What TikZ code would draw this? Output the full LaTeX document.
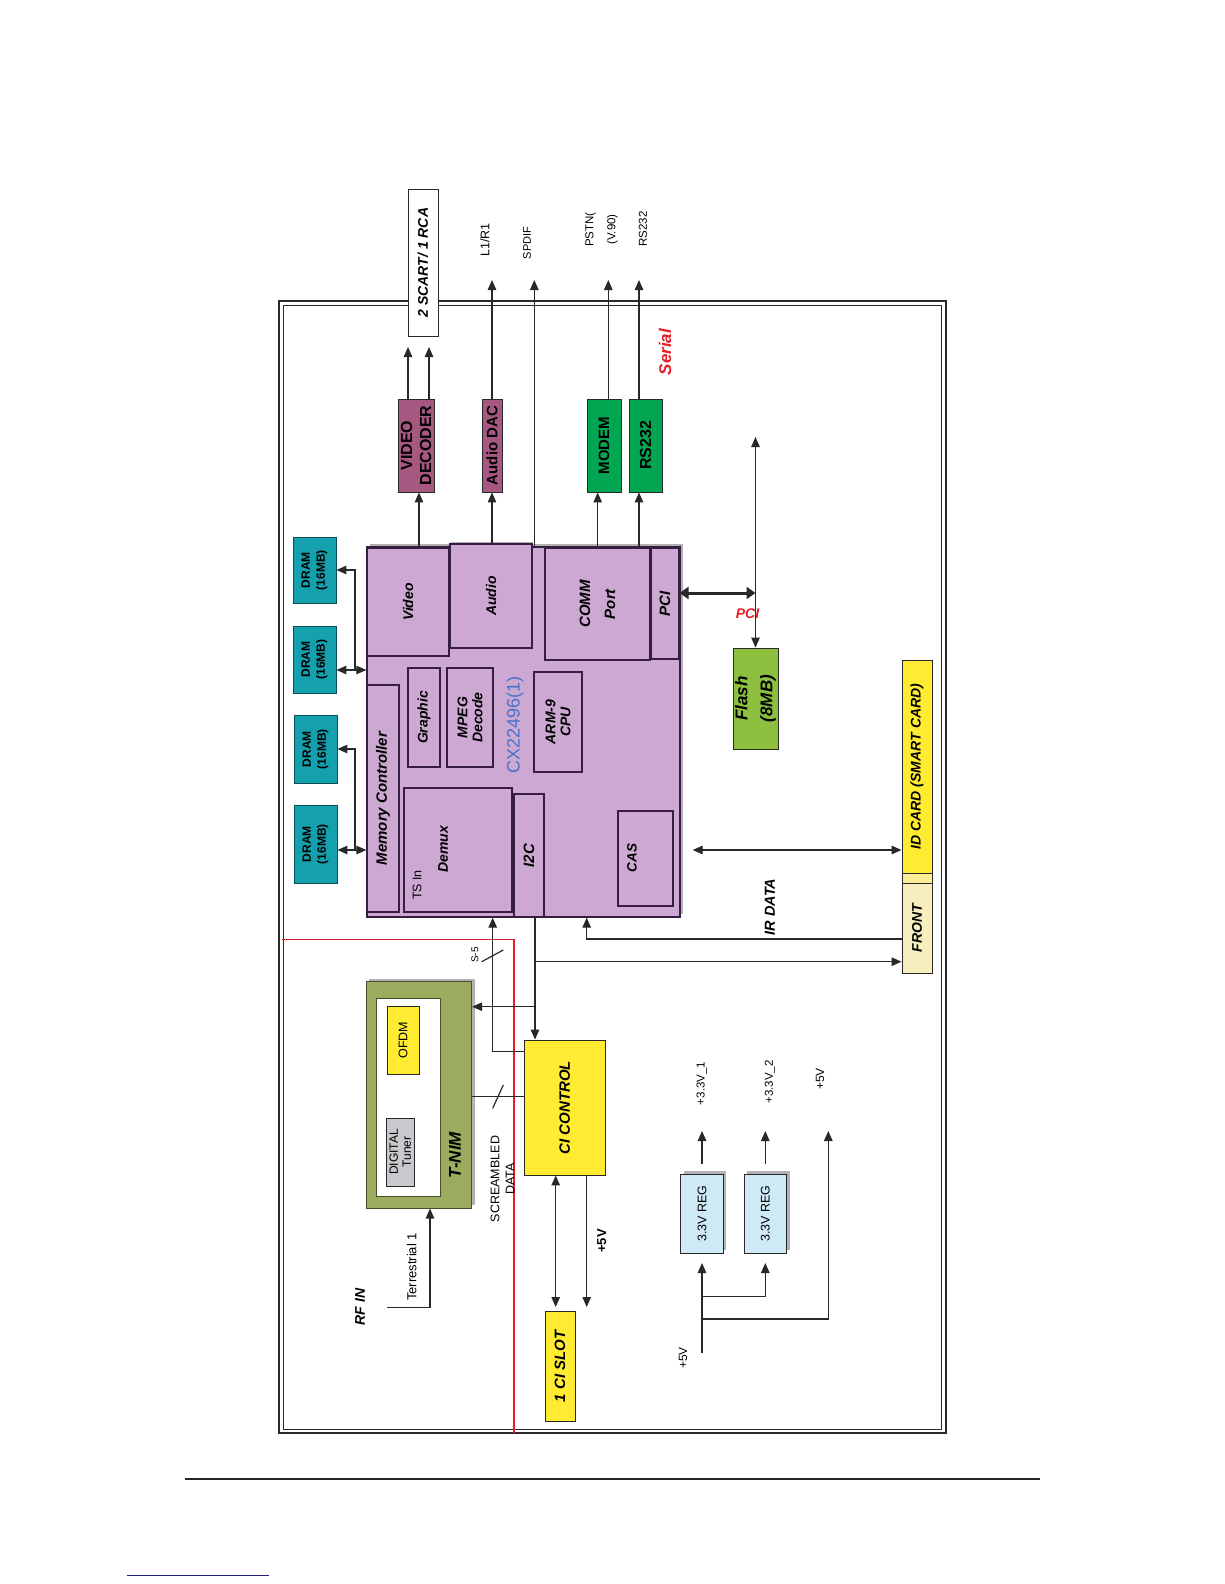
\documentclass[tikz,border=0pt]{standalone}
\usepackage{fontspec}
\setmainfont{Liberation Sans}
\usetikzlibrary{arrows.meta}
\newcommand\fsz[2]{\fontsize{#1}{#2}\selectfont}
\definecolor{chipc}{RGB}{204,168,210}
\definecolor{chipb}{RGB}{55,30,65}
\definecolor{mauve}{RGB}{166,88,128}
\definecolor{grn}{RGB}{0,166,81}
\definecolor{teal2}{RGB}{20,160,172}
\definecolor{flashc}{RGB}{141,192,62}
\definecolor{yel}{RGB}{255,236,50}
\definecolor{frontc}{RGB}{246,238,188}
\definecolor{stripc}{RGB}{250,238,150}
\definecolor{tnimc}{RGB}{155,172,95}
\definecolor{tunerc}{RGB}{200,200,205}
\definecolor{regc}{RGB}{206,234,244}
\definecolor{cxblue}{RGB}{70,115,200}
\definecolor{redc}{RGB}{230,30,40}
\definecolor{linec}{RGB}{40,40,40}
\definecolor{navy}{RGB}{30,30,130}
\begin{document}
\begin{tikzpicture}[x=1pt,y=-1pt,
  wh/.style 2 args={minimum height=#1pt, minimum width=#2pt},
  blk/.style={draw=linec, line width=0.9pt, inner sep=0pt, align=center, rotate=90},
  cblk/.style={draw=chipb, line width=1.1pt, fill=chipc, inner sep=0pt, align=center, rotate=90},
  txt/.style={inner sep=0pt, align=center, rotate=90},
  ar/.style={draw=linec, line width=1.2pt, -{Triangle[length=10pt,width=8.5pt]}},
  dar/.style={draw=linec, line width=1.2pt, {Triangle[length=10pt,width=8.5pt]}-{Triangle[length=10pt,width=8.5pt]}},
  ln/.style={draw=linec, line width=1.2pt},
  shd/.style={fill=black!30, draw=none}
]
\useasboundingbox (0,0) rectangle (1224,1584);

% frame
\draw[line width=1.2pt, linec] (279,301) rectangle (946,1433);
\draw[line width=0.9pt, linec] (283,305) rectangle (941,1429);
\draw[line width=2pt, linec] (946,301) -- (946,1433);

% red boundary
\draw[redc, line width=1.1pt] (282,939.3) -- (514,939.3) -- (514,1433);

% outputs at top
\node[blk, fill=white, wh={30}{147}, font=\fsz{14}{16}\bfseries\itshape] (scart) at (423,262.5) {2 SCART/ 1 RCA};
\node[blk, fill=mauve, wh={36}{93}, font=\fsz{16}{19}\bfseries] (dec) at (416,445.5) {VIDEO\\DECODER};
\node[blk, fill=mauve, wh={20}{93}, font=\fsz{15}{17}\bfseries] (dac) at (492,445.5) {Audio DAC};
\node[blk, fill=grn, wh={34}{93}, font=\fsz{15}{17}\bfseries] (modem) at (604,445.5) {MODEM};
\node[blk, fill=grn, wh={33}{93}, font=\fsz{16}{17}\bfseries] (rsb) at (645.5,445.5) {RS232};

\node[txt, font=\fsz{12.5}{14}] (tl1) at (485,240) {L1/R1};
\node[txt, font=\fsz{11}{13}] (tsp) at (527,243) {SPDIF};
\node[txt, font=\fsz{11.5}{22}] (tps) at (601.5,229.5) {PSTN(\\(V.90)};
\node[txt, font=\fsz{11.5}{13}] (trs) at (643,229) {RS232};
\node[txt, text=redc, font=\fsz{17}{19}\bfseries\itshape] (tser) at (665,352) {Serial};

% DRAMs
\node[blk, draw=teal2!50!black, fill=teal2, wh={43}{66}, font=\fsz{12}{15}\bfseries] (dram1) at (314.5,570) {DRAM\\(16MB)};
\node[blk, draw=teal2!50!black, fill=teal2, wh={43}{67}, font=\fsz{12}{15}\bfseries] (dram2) at (314.5,659.5) {DRAM\\(16MB)};
\node[blk, draw=teal2!50!black, fill=teal2, wh={43}{68}, font=\fsz{12}{15}\bfseries] (dram3) at (315.5,749) {DRAM\\(16MB)};
\node[blk, draw=teal2!50!black, fill=teal2, wh={43}{78}, font=\fsz{12}{15}\bfseries] (dram4) at (315.5,844) {DRAM\\(16MB)};

% chip
\fill[black!30] (370,544) rectangle (683,914);
\node[draw=chipb, line width=1.3pt, fill=chipc, minimum width=313pt, minimum height=370pt, inner sep=0pt] (chip) at (523.5,732) {};
\node[cblk, wh={82}{108}, font=\fsz{14}{16}\bfseries\itshape] (vid) at (408,602) {Video};
\fill[black!30] (451,542) rectangle (533,546);
\node[cblk, wh={82}{104}, font=\fsz{14}{16}\bfseries\itshape] (aud) at (491,596) {Audio};
\node[cblk, wh={105}{112}, font=\fsz{15}{25}\bfseries\itshape] (comm) at (597.5,604) {COMM\\Port};
\node[cblk, wh={28}{111}, font=\fsz{15}{17}\bfseries\itshape] (pci) at (665,603.5) {PCI};
\node[cblk, wh={32}{227}, font=\fsz{15}{17}\bfseries\itshape] (mem) at (383,798.5) {Memory Controller};
\node[cblk, wh={32}{99}, font=\fsz{14}{16}\bfseries\itshape] (gfx) at (424,717.5) {Graphic};
\node[cblk, wh={46}{99}, font=\fsz{14}{15}\bfseries\itshape] (mpeg) at (470,717.5) {MPEG\\Decode};
\node[cblk, wh={48}{100}, font=\fsz{14}{15}\bfseries\itshape] (arm) at (558,722) {ARM-9\\CPU};
\node[cblk, wh={108}{124}] (demux) at (458,850) {};
\node[txt, font=\fsz{14}{16}\bfseries\itshape] (tdemux) at (443,849) {Demux};
\node[txt, font=\fsz{12.5}{14}] (ttsin) at (417,885) {TS In};
\node[cblk, wh={30}{123}, font=\fsz{15}{17}\bfseries\itshape] (i2c) at (529,855.5) {I2C};
\node[cblk, wh={55}{95}] (cas) at (645.5,858.5) {};
\node[txt, font=\fsz{13.5}{16}\bfseries\itshape] (tcas) at (632,858) {CAS};
\node[txt, text=cxblue, font=\fsz{18}{20}] (tcx) at (515,725) {CX22496(1)};

% flash and PCI
\node[blk, fill=flashc, wh={45}{101}, font=\fsz{17}{25}\bfseries\itshape] (flash) at (755.5,698.5) {Flash\\(8MB)};
\node[inner sep=0pt, text=redc, font=\fsz{14}{16}\bfseries\itshape] (tpci) at (747.5,614) {PCI};

% ID card / front
\node[blk, fill=yel, wh={30}{213}, font=\fsz{14}{16}\bfseries\itshape] (idc) at (917,766.5) {ID CARD (SMART CARD)};
\node[blk, fill=stripc, wh={30}{10}] (strip) at (917,878) {};
\node[blk, fill=frontc, wh={30}{90}, font=\fsz{14}{16}\bfseries\itshape] (front) at (917,928) {FRONT};
\node[txt, font=\fsz{14.5}{16}\bfseries\itshape] (tir) at (770,907) {IR DATA};

% T-NIM
\fill[black!30] (369,978.7) rectangle (474.7,1205);
\node[blk, fill=tnimc, draw=tnimc!45!black, wh={105.7}{226.3}] (tnim) at (418.8,1094.9) {};
\node[blk, fill=white, draw=tnimc!45!black, wh={63.3}{198.7}] (tnimin) at (408.3,1097.3) {};
\node[blk, fill=yel, wh={32}{67.3}, font=\fsz{12.5}{14}] (ofdm) at (403,1040.3) {OFDM};
\node[blk, fill=tunerc, wh={27.3}{68}, font=\fsz{12}{13}] (tuner) at (400.3,1152) {DIGITAL\\Tuner};
\node[txt, font=\fsz{17}{19}\bfseries\itshape] (ttnim) at (455,1155) {T-NIM};

% CI
\node[blk, fill=yel, wh={81.7}{135}, font=\fsz{15}{17}\bfseries\itshape] (ci) at (564.8,1107.5) {CI CONTROL};
\node[blk, fill=yel, wh={30}{109.3}, font=\fsz{15}{17}\bfseries\itshape] (slot) at (560,1366.3) {1 CI SLOT};
\node[txt, font=\fsz{12.5}{15}] (tscr) at (502.5,1179) {SCREAMBLED\\DATA};
\node[txt, font=\fsz{10}{12}] (ts5) at (475,955) {S-5};
\node[txt, font=\fsz{13}{15}\bfseries] (tp5a) at (601.7,1241) {+5V};
\node[txt, font=\fsz{14}{16}\bfseries\itshape] (trf) at (360,1307) {RF IN};
\node[txt, font=\fsz{13}{15}] (tterr) at (411.7,1267) {Terrestrial 1};

% regulators
\fill[black!30] (683.7,1171) rectangle (726.3,1250);
\fill[black!30] (747,1171) rectangle (789.7,1250);
\node[blk, fill=regc, wh={42.6}{79}, font=\fsz{12.5}{14}] (reg1) at (702,1213.5) {3.3V REG};
\node[blk, fill=regc, wh={42.6}{79}, font=\fsz{12.5}{14}] (reg2) at (765.3,1213.5) {3.3V REG};
\node[txt, font=\fsz{11.5}{13}] (t331) at (701.7,1083.5) {+3.3V\_1};
\node[txt, font=\fsz{11.5}{13}] (t332) at (770,1082) {+3.3V\_2};
\node[txt, font=\fsz{12}{13}] (t5o) at (820,1079) {+5V};
\node[txt, font=\fsz{12}{13}] (t5i) at (683,1358) {+5V};

% coordinates
\coordinate (v1) at (408,347); \coordinate (v2) at (429,347);
\coordinate (l1) at (492,280); \coordinate (sp) at (534.3,280);
\coordinate (ps) at (608.3,280); \coordinate (rs) at (639,280);
\coordinate (pcitop) at (755.5,437); \coordinate (pcij) at (755.5,593);
\coordinate (d1) at (355,570); \coordinate (d2) at (355,670);
\coordinate (d3) at (355,749); \coordinate (d4) at (355,850);
\coordinate (idl) at (692.7,850);
\coordinate (irc) at (586.7,939);
\coordinate (bt) at (535,961.7); \coordinate (bn) at (535,1006.7);
\coordinate (tsin) at (492.7,1051.7);
\coordinate (sd) at (500,1096.7);
\coordinate (s1) at (555.7,1307); \coordinate (s2) at (586.7,1307);
\coordinate (rf) at (386.7,1307.7); \coordinate (rfc) at (430,1307.7);
\coordinate (o1) at (702,1131); \coordinate (o2) at (765.3,1131); \coordinate (o3) at (828.3,1131);
\coordinate (pin) at (702,1352.7); \coordinate (j1) at (702,1296.7); \coordinate (j2) at (702,1319);
\coordinate (r1b) at (702,1263); \coordinate (r2b) at (765.3,1263);

% top connectors
\draw[ar] (419,0 |- vid.east) -- (419,0 |- dec.west);
\draw[ar] (408,0 |- dec.east) -- (v1);
\draw[ar] (429,0 |- dec.east) -- (v2);
\draw[ar] (492,0 |- aud.east) -- (dac.west);
\draw[ar] (dac.east) -- (l1);
\draw[ar] (534.3,0 |- chip.north) -- (sp);
\draw[ar] (597.7,0 |- comm.east) -- (597.7,0 |- modem.west);
\draw[ar] (639,0 |- comm.east) -- (639,0 |- rsb.west);
\draw[ar] (608.3,0 |- modem.east) -- (ps);
\draw[ar] (639,0 |- rsb.east) -- (rs);

% PCI bus
\draw[draw=linec, line width=3pt, {Triangle[length=9pt,width=12pt]}-{Triangle[length=9pt,width=12pt]}] (pci.south |- pcij) -- (pcij);
\draw[dar] (pcitop) -- (flash.east);

% DRAM connectors
\draw[ar] (d2) -- (d1) -- (d1 -| dram1.south);
\draw[dar] (dram2.south |- d2) -- (chip.west |- d2);
\draw[ar] (d4) -- (d3) -- (d3 -| dram3.south);
\draw[dar] (dram4.south |- d4) -- (chip.west |- d4);

% ID card, IR
\draw[dar] (idl) -- (idl -| idc.north);
\draw[ar] (front.north |- irc) -- (irc) -- (irc |- chip.south);

% CI bus
\draw[ar] (bt |- chip.south) -- (bt |- ci.east);
\draw[ar] (bt) -- (bt -| front.north);
\draw[ar] (bn) -- (bn -| tnim.south);
\draw[ar] (tsin -| ci.north) -- (tsin) -- (tsin |- chip.south);
\draw[ln] (481.7,961.7) -- (503.3,950);
\draw[ln] (sd -| tnim.south) -- (sd -| ci.north);
\draw[ln] (492.7,1108.3) -- (503.3,1085);
\draw[dar] (555.7,0 |- ci.west) -- (s1);
\draw[ar] (586.7,0 |- ci.west) -- (s2);

% RF
\draw[ar] (rf) -- (rfc) -- (rfc |- tnim.west);

% power
\draw[ar] ([yshift=10pt]reg1.east) -- (o1);
\draw[ar] ([yshift=10pt]reg2.east) -- (o2);
\draw[ar] (pin) -- (r1b);
\draw[ar] (j1) -- (j1 -| r2b) -- (r2b);
\draw[ar] (j2) -- (j2 -| o3) -- (o3);

% page rules
\draw[line width=2pt, black!85] (185,1479) -- (1040,1479);
\draw[line width=1pt, navy] (127,1575) -- (269,1575);
\end{tikzpicture}
\end{document}
